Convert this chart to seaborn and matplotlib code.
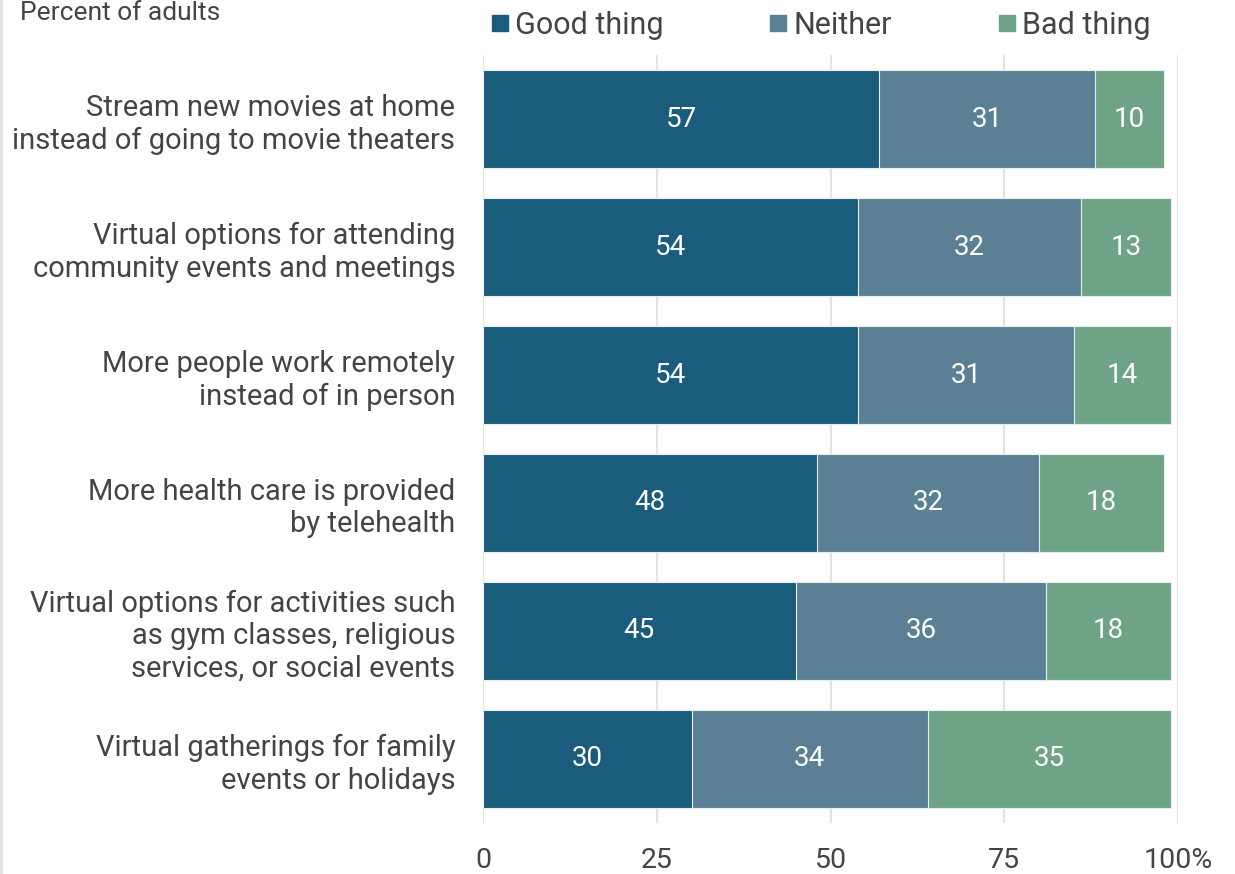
import pandas as pd
import numpy as np
import matplotlib
matplotlib.use("Agg")
import matplotlib.pyplot as plt
from matplotlib.lines import Line2D
import seaborn as sns

# data
labels = [
    "Stream new movies at home\ninstead of going to movie theaters",
    "Virtual options for attending\ncommunity events and meetings",
    "More people work remotely\ninstead of in person",
    "More health care is provided\nby telehealth",
    "Virtual options for activities such\nas gym classes, religious\nservices, or social events",
    "Virtual gatherings for family\nevents or holidays",
]
good = [57, 54, 54, 48, 45, 30]
neither = [31, 32, 31, 32, 36, 34]
bad = [10, 13, 14, 18, 18, 35]

series = ["Good thing", "Neither", "Bad thing"]
colors = ["#1a5c7b", "#5b7f95", "#6fa386"]
text_col = "#444444"

sns.set_theme(style="white")
plt.rcParams["font.family"] = ["Roboto", "DejaVu Sans"]

df = pd.DataFrame({"label": labels, "Good thing": good, "Neither": neither, "Bad thing": bad})
df["c1"] = df["Good thing"]
df["c2"] = df["c1"] + df["Neither"]
df["c3"] = df["c2"] + df["Bad thing"]

fig = plt.figure(figsize=(12.35, 8.74), dpi=100)
ax = fig.add_axes([483 / 1235, 1 - 823 / 874, (1178 - 483) / 1235, (823 - 55) / 874])

# stacked bars: draw cumulative totals back to front
for col, c in zip(["c3", "c2", "c1"], colors[::-1]):
    sns.barplot(data=df, x=col, y="label", color=c, width=0.76, orient="h",
                saturation=1, edgecolor="#e8eef0", linewidth=0.8, ax=ax, zorder=3)

# value labels in segment centres
for i in range(len(labels)):
    starts = [0, df["c1"][i], df["c2"][i]]
    for s, v in zip(starts, [good[i], neither[i], bad[i]]):
        ax.text(s + v / 2, i, str(v), ha="center", va="center", color="white",
                fontsize=20, zorder=5)

ax.set_xlim(0, 100)
ax.set_ylim(len(labels) - 0.5, -0.5)
ax.set_xticks([0, 25, 50, 75, 100])
ax.set_xticklabels(["0", "25", "50", "75", "100%"])
ax.xaxis.grid(True, color="#e3e3e3", linewidth=1.5, zorder=0)
ax.set_axisbelow(True)
for sp in ax.spines.values():
    sp.set_visible(False)
ax.set_xlabel("")
ax.set_ylabel("")
ax.tick_params(axis="x", length=0, pad=17, labelsize=20.5, labelcolor=text_col)
ax.tick_params(axis="y", length=0, pad=20, labelsize=21, labelcolor=text_col)
for t in ax.get_yticklabels():
    t.set_linespacing(1.2)
    t.set_ha("right")

# legend
handles = [Line2D([0], [0], marker="s", linestyle="", markersize=12,
                  markerfacecolor=c, markeredgecolor=c) for c in colors]
fig.legend(handles, series, loc="center left", bbox_to_anchor=(489 / 1235, 1 - 25 / 874),
           ncol=3, frameon=False, fontsize=22, handletextpad=0.15, columnspacing=3.4,
           labelcolor=text_col, handlelength=0.7, borderaxespad=0, borderpad=0)

fig.text(20 / 1235, 1 - 1 / 874, "Percent of adults", fontsize=19, color=text_col,
         ha="left", va="top")

# thin border at the left edge
fig.add_artist(Line2D([0.001, 0.001], [0, 1], color="#e0e0e0", linewidth=2,
                      transform=fig.transFigure))

fig.savefig("out.png", dpi=100)
